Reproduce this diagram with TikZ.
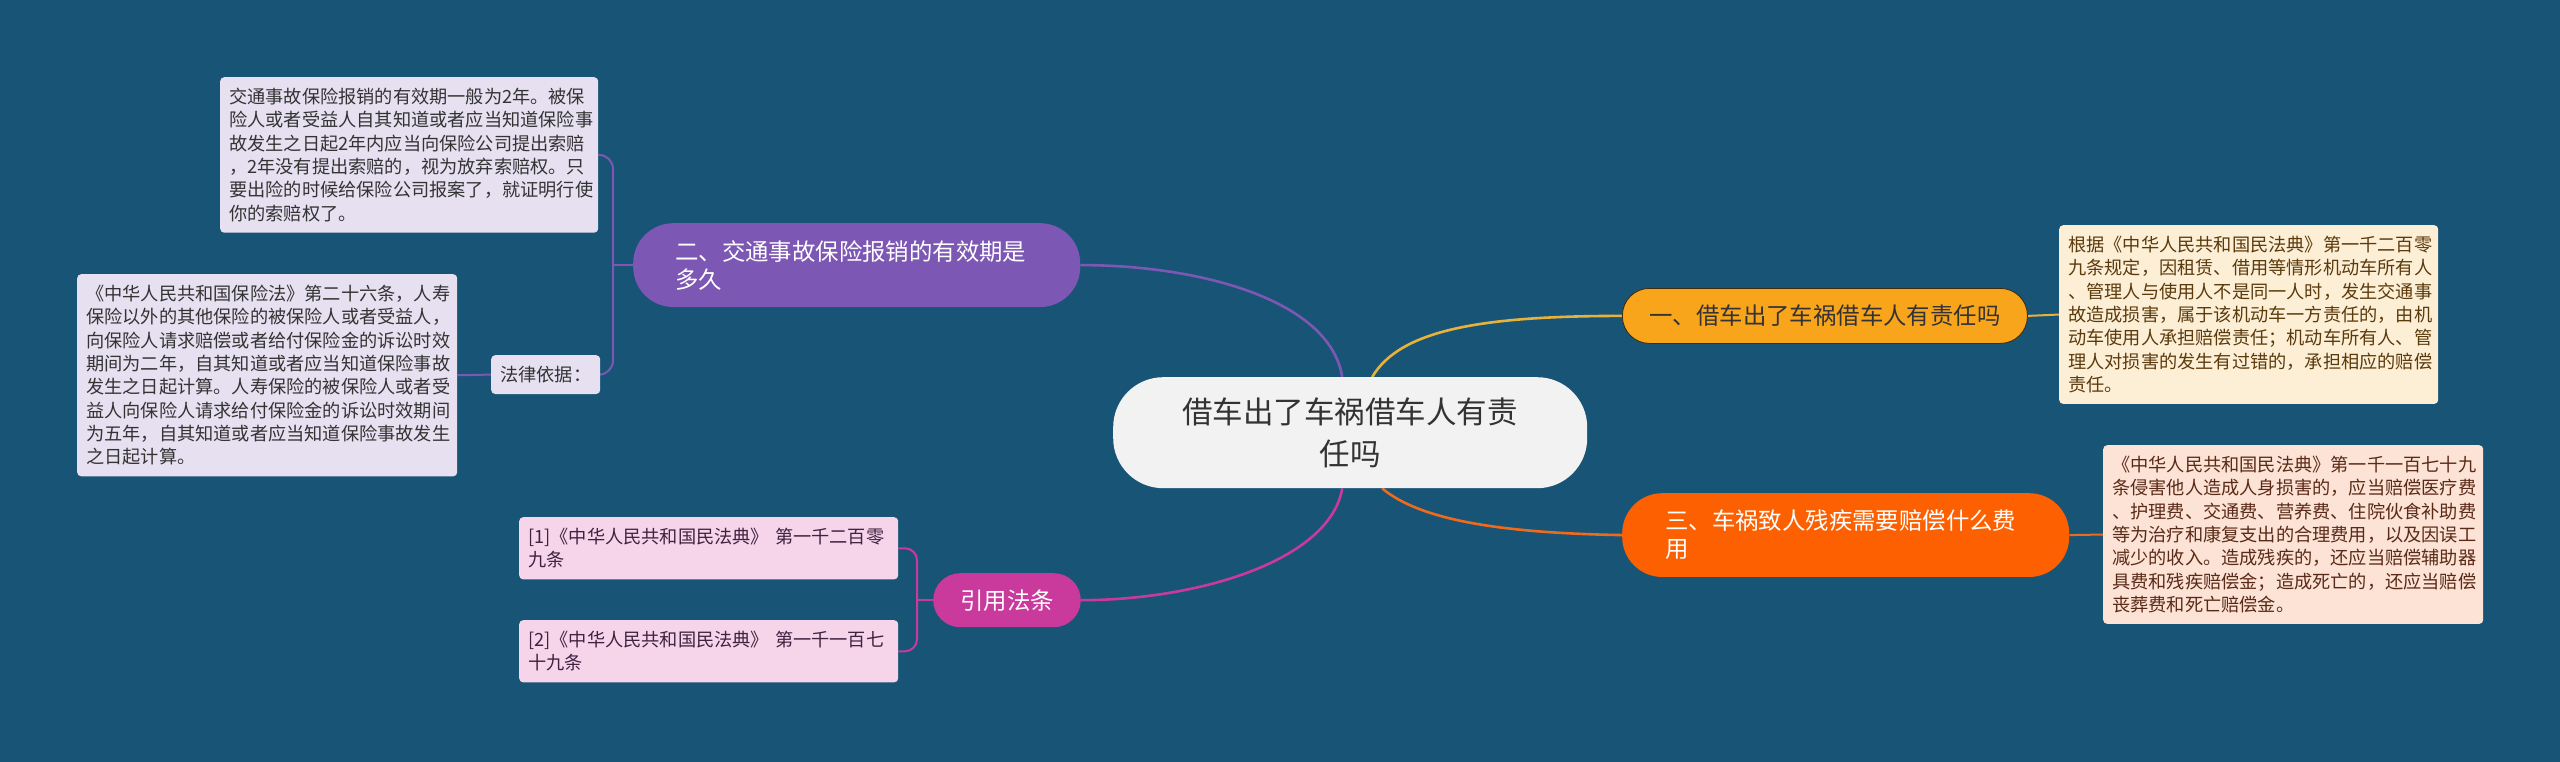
\documentclass[tikz,border=0pt]{standalone}
\usepackage{fontspec}
\newfontfamily\cjk{Noto Sans CJK SC}
\usetikzlibrary{calc}
\pgfdeclarelayer{bg}
\pgfdeclarelayer{lines}
\pgfsetlayers{bg,lines,main}
\definecolor{bgcol}{HTML}{185476}
\definecolor{cfill}{HTML}{F2F2F2}
\definecolor{ctext}{HTML}{333333}
\definecolor{purp}{HTML}{7D57B4}
\definecolor{yell}{HTML}{F9A51C}
\definecolor{yline}{HTML}{E7B23C}
\definecolor{oran}{HTML}{FC6001}
\definecolor{oline}{HTML}{EE6A1C}
\definecolor{mag}{HTML}{C93A9C}
\definecolor{lpurp}{HTML}{E6E0F1}
\definecolor{lyell}{HTML}{FDEFD6}
\definecolor{lora}{HTML}{FDE3D5}
\definecolor{lmag}{HTML}{F6D5EB}
\definecolor{brtext}{HTML}{5B3A0C}
\definecolor{rbtext}{HTML}{5A2A18}
\definecolor{mtext}{HTML}{3E2240}
\tikzset{
  detail/.style={rectangle, rounded corners=4pt, anchor=north west, align=left,
    inner xsep=9pt, inner ysep=11pt, font=\cjk\fontsize{18.2}{23.3}\selectfont, text=ctext},
  branch/.style={rectangle, anchor=north west, font=\cjk\fontsize{23.4}{28}\selectfont, text=white},
  mainline/.style={line width=2.6pt},
  subline/.style={line width=2pt},
}
\begin{document}
\begin{tikzpicture}[x=1pt,y=-1pt]
\begin{pgfonlayer}{bg}
\fill[bgcol] (0,0) rectangle (2560,762);
\end{pgfonlayer}
\useasboundingbox (0,0) rectangle (2560,762);

% center
\node[rectangle, rounded corners=50pt, fill=cfill, anchor=north west, minimum width=474pt, minimum height=111pt,
  text width=400pt, align=center, inner xsep=37pt, inner ysep=19pt, font=\cjk\fontsize{30.5}{42}\selectfont, text=ctext]
  (c) at (1113,377) {借车出了车祸借车人有责\\任吗};

% branches
\node[branch, fill=yell, draw=brtext!70!black, line width=0.8pt, rounded corners=27pt, text=ctext,
  inner xsep=27pt, inner ysep=16pt, minimum height=55pt] (b1) at (1622,288) {一、借车出了车祸借车人有责任吗};
\node[branch, fill=purp, rounded corners=40pt, text width=363pt, align=left,
  inner xsep=42pt, inner ysep=17pt] (b2) at (633,223) {二、交通事故保险报销的有效期是\\多久};
\node[branch, fill=oran, rounded corners=40pt, text width=361pt, align=left,
  inner xsep=43pt, inner ysep=17pt] (b3) at (1622,493) {三、车祸致人残疾需要赔偿什么费\\用};
\node[branch, fill=mag, rounded corners=27pt, inner xsep=27pt, inner ysep=15.5pt,
  minimum height=54pt] (b4) at (933,573) {引用法条};

% details
\node[detail, fill=lpurp, text width=360pt] (d2a) at (220,77)
 {交通事故保险报销的有效期一般为2年。被保\\险人或者受益人自其知道或者应当知道保险事\\故发生之日起2年内应当向保险公司提出索赔\\，2年没有提出索赔的，视为放弃索赔权。只\\要出险的时候给保险公司报案了，就证明行使\\你的索赔权了。};
\node[detail, fill=lpurp] (d2b) at (491,355) {法律依据：};
\node[detail, fill=lpurp, text width=362pt] (d2c) at (77,274)
 {《中华人民共和国保险法》第二十六条，人寿\\保险以外的其他保险的被保险人或者受益人，\\向保险人请求赔偿或者给付保险金的诉讼时效\\期间为二年，自其知道或者应当知道保险事故\\发生之日起计算。人寿保险的被保险人或者受\\益人向保险人请求给付保险金的诉讼时效期间\\为五年，自其知道或者应当知道保险事故发生\\之日起计算。};
\node[detail, fill=lyell, text=brtext, text width=361pt] (d1) at (2059,225)
 {根据《中华人民共和国民法典》第一千二百零\\九条规定，因租赁、借用等情形机动车所有人\\、管理人与使用人不是同一人时，发生交通事\\故造成损害，属于该机动车一方责任的，由机\\动车使用人承担赔偿责任；机动车所有人、管\\理人对损害的发生有过错的，承担相应的赔偿\\责任。};
\node[detail, fill=lora, text=rbtext, text width=362pt] (d3) at (2103,445)
 {《中华人民共和国民法典》第一千一百七十九\\条侵害他人造成人身损害的，应当赔偿医疗费\\、护理费、交通费、营养费、住院伙食补助费\\等为治疗和康复支出的合理费用，以及因误工\\减少的收入。造成残疾的，还应当赔偿辅助器\\具费和残疾赔偿金；造成死亡的，还应当赔偿\\丧葬费和死亡赔偿金。};
\node[detail, fill=lmag, text=mtext, text width=361pt] (d4a) at (519,517)
 {[1]《中华人民共和国民法典》 第一千二百零\\九条};
\node[detail, fill=lmag, text=mtext, text width=361pt] (d4b) at (519,620)
 {[2]《中华人民共和国民法典》 第一千一百七\\十九条};

\coordinate (sp) at ($(c.north)+(-8,0)$);
\coordinate (sy) at ($(c.north)+(22,0)$);
\coordinate (so) at ($(c.south)+(32,0)$);
\coordinate (sm) at ($(c.south)+(-8,0)$);
\coordinate (j2) at ($(b2.west)+(-20,0)$);
\coordinate (j4) at ($(b4.west)+(-16,0)$);

\begin{pgfonlayer}{lines}
\draw[mainline, purp] (sp) .. controls (1330,300) and (1200,265) .. (b2.east);
\draw[mainline, yline] (sy) .. controls (1400,330) and (1480,316) .. (b1.west);
\draw[mainline, oline] (so) .. controls (1420,520) and (1500,533) .. (b3.west);
\draw[mainline, mag] (sm) .. controls (1330,560) and (1200,600) .. (b4.east);
\draw[subline, yline] (b1.east) -- (d1.west);
\draw[subline, oline] (b3.east) -- (d3.west);
\draw[subline, purp] (b2.west) -- (j2);
\draw[subline, purp, rounded corners=14pt] (j2) |- (d2a.east);
\draw[subline, purp, rounded corners=14pt] (j2) |- (d2b.east);
\draw[subline, purp] (d2b.west) -- (d2c.east);
\draw[subline, mag] (b4.west) -- (j4);
\draw[subline, mag, rounded corners=12pt] (j4) |- (d4a.east);
\draw[subline, mag, rounded corners=12pt] (j4) |- (d4b.east);
\end{pgfonlayer}
\end{tikzpicture}
\end{document}
